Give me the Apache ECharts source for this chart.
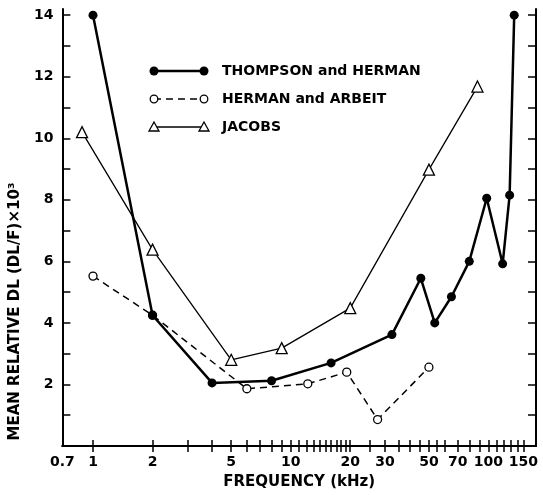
<!DOCTYPE html>
<html lang="en">
<head>
<meta charset="UTF-8">
<title>Mean relative DL vs frequency</title>
<script src="https://cdn.jsdelivr.net/npm/echarts@6/dist/echarts.min.js"></script>
<style>
  html,body{margin:0;padding:0;background:#fff;}
  #chart{width:543px;height:495px;}
</style>
</head>
<body>
<div id="chart"></div>
<script>
// values (x in kHz, y in DL/F x 10^3)
var thompsonX=[1,2,4,8,16,32.5,45.5,53.5,65,80,98,118,128,135];
var thompsonY=[14,4.25,2.05,2.12,2.7,3.62,5.45,4,4.85,6,8.05,5.92,8.15,14];
var hermanX=[1,2,6,12.2,19.2,27.5,50];
var hermanY=[5.52,4.25,1.86,2.02,2.4,0.86,2.56];
var jacobsX=[0.88,2,5,9,20,50,88];
var jacobsY=[10.2,6.38,2.8,3.18,4.48,8.98,11.68];

var xLabels=[0.7,1,2,5,10,20,30,50,70,100,150];
var xTicks=[1,2,3,4,5,6,7,8,9,10,11,12,13,14,15,16,17,18,19,20,25,30,35,40,45,50,55,60,70,80,90,100,110,120,130,140,150];
var yLabels=[2,4,6,8,10,12,14];
var yTicks=[1,2,3,4,5,6,7,8,9,10,11,12,13,14];

var names=['THOMPSON and HERMAN','HERMAN and ARBEIT','JACOBS'];

function zip(xs,ys){
    return xs.map(function(x,i){return [x,ys[i]];});
}

var font='DejaVu Sans';
var black='#000';

var chart=echarts.init(document.getElementById('chart'));

function xAxisOf(pos){
    var a={
        type:'log',min:0.7,max:174,position:pos,
        axisLine:{show:true,lineStyle:{color:black,width:2}},
        axisTick:{show:true,inside:true,length:6,customValues:xTicks,lineStyle:{color:black,width:1.5}},
        axisLabel:{show:false},
        splitLine:{show:false},
        minorTick:{show:false}
    };
    if(pos=='bottom'){
        a.axisLabel={show:true,customValues:xLabels,color:black,fontFamily:font,fontWeight:'bold',fontSize:14,margin:9,
            formatter:function(v){return String(v);}};
        a.name='FREQUENCY (kHz)';
        a.nameLocation='middle';
        a.nameGap=29;
        a.nameTextStyle={color:black,fontFamily:font,fontWeight:'bold',fontSize:15};
    }
    return a;
}
function yAxisOf(pos){
    var a={
        type:'value',min:0,max:14.2,position:pos,
        axisLine:{show:true,lineStyle:{color:black,width:2}},
        axisTick:{show:true,inside:true,length:8,customValues:yTicks,lineStyle:{color:black,width:1.5}},
        axisLabel:{show:false},
        splitLine:{show:false}
    };
    if(pos=='left'){
        a.axisLabel={show:true,customValues:yLabels,color:black,fontFamily:font,fontWeight:'bold',fontSize:14,margin:9};
        a.name='MEAN RELATIVE DL (DL/F)×10³';
        a.nameLocation='middle';
        a.nameGap=30;
        a.nameTextStyle={color:black,fontFamily:font,fontWeight:'bold',fontSize:15,padding:[0,168,0,0]};
    }
    return a;
}

// legend drawn by hand: sample line with a marker at both ends
var legY=[71,99,127];
var legend=[];
function legendItem(i,dash,width,sym){
    var y=legY[i];
    legend.push({type:'line',shape:{x1:154,y1:y,x2:204,y2:y},style:{stroke:black,lineWidth:width,lineDash:dash}});
    [154,204].forEach(function(x){
        if(sym=='dot'){
            legend.push({type:'circle',shape:{cx:x,cy:y,r:4.5},style:{fill:black}});
        }else if(sym=='ring'){
            legend.push({type:'circle',shape:{cx:x,cy:y,r:3.8},style:{fill:'#fff',stroke:black,lineWidth:1.3}});
        }else{
            legend.push({type:'polygon',shape:{points:[[x,y-5],[x-5,y+4],[x+5,y+4]]},style:{fill:'#fff',stroke:black,lineWidth:1.3}});
        }
    });
    legend.push({type:'text',x:222,y:y,style:{text:names[i],fill:black,font:'bold 14px "DejaVu Sans"',textVerticalAlign:'middle'}});
}
legendItem(0,null,2.5,'dot');
legendItem(1,[7,5],1.5,'ring');
legendItem(2,null,1.3,'tri');

var option={
    backgroundColor:'#fff',
    animation:false,
    grid:{left:55,right:7,top:9,bottom:48},
    xAxis:[xAxisOf('bottom'),xAxisOf('top')],
    yAxis:[yAxisOf('left'),yAxisOf('right')],
    graphic:legend,
    series:[
        {
            name:names[2],type:'line',data:zip(jacobsX,jacobsY),
            symbol:'triangle',symbolSize:11,
            lineStyle:{color:black,width:1.3},
            itemStyle:{color:'#fff',borderColor:black,borderWidth:1.3}
        },
        {
            name:names[1],type:'line',data:zip(hermanX,hermanY),
            symbol:'circle',symbolSize:8,
            lineStyle:{color:black,width:1.5,type:[7,5]},
            itemStyle:{color:'#fff',borderColor:black,borderWidth:1.3}
        },
        {
            name:names[0],type:'line',data:zip(thompsonX,thompsonY),
            symbol:'circle',symbolSize:9,
            lineStyle:{color:black,width:2.5},
            itemStyle:{color:black}
        }
    ]
};
chart.setOption(option);
</script>
</body>
</html>
